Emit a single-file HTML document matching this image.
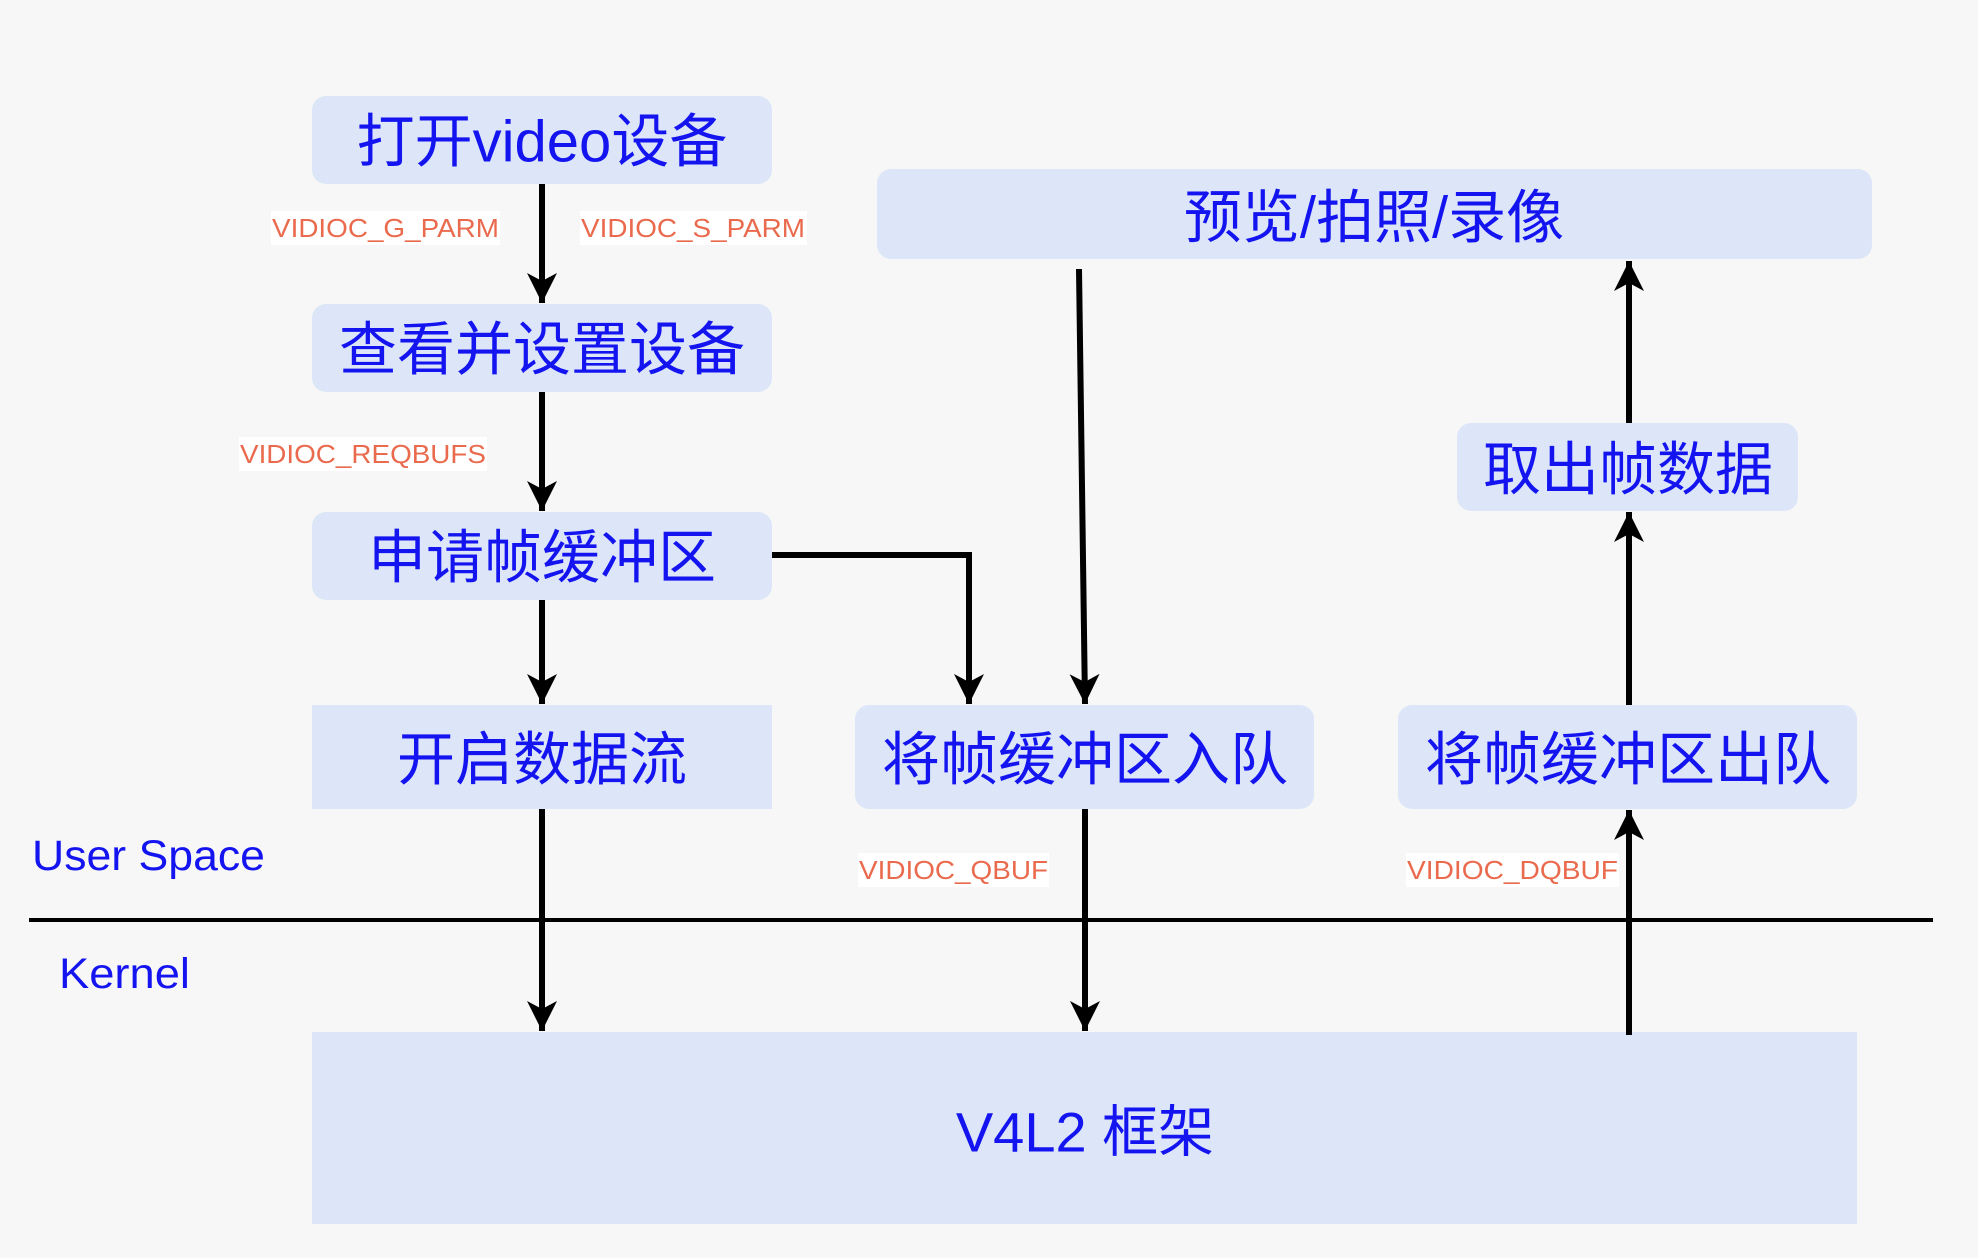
<!DOCTYPE html>
<html><head><meta charset="utf-8"><style>
html,body{margin:0;padding:0;background:#f7f7f7;}
svg{display:block}
.t{font-family:"Liberation Sans","Noto Sans CJK SC",sans-serif;fill:#1414f0;text-anchor:middle;dominant-baseline:central}
.l{font-family:"Liberation Sans",sans-serif;fill:#ea6a4e;font-size:26px;dominant-baseline:central}
</style></head><body>
<svg width="1978" height="1258" viewBox="0 0 1978 1258" xmlns="http://www.w3.org/2000/svg">
<defs>
<marker id="b" viewBox="0 0 30 30" markerWidth="30" markerHeight="30" refX="30" refY="15" orient="auto" markerUnits="userSpaceOnUse"><path d="M0,0 L30,15 L0,30 L8,15 Z" fill="#000"/></marker></defs>
<rect width="1978" height="1258" fill="#f7f7f7"/>
<g fill="#dce6f8">
<rect x="312" y="96" width="460" height="88" rx="14"/>
<rect x="312" y="304" width="460" height="88" rx="14"/>
<rect x="312" y="512" width="460" height="88" rx="14"/>
<rect x="312" y="705" width="460" height="104"/>
<rect x="855" y="705" width="459" height="104" rx="14"/>
<rect x="1398" y="705" width="459" height="104" rx="14"/>
<rect x="877" y="169" width="995" height="90" rx="14"/>
<rect x="1457" y="423" width="341" height="88" rx="14"/>
<rect x="312" y="1032" width="1545" height="192"/>
</g>
<text class="t" x="542" y="142" font-size="58">打开video设备</text>
<text class="t" x="542" y="350" font-size="58">查看并设置设备</text>
<text class="t" x="542" y="558" font-size="58">申请帧缓冲区</text>
<text class="t" x="542" y="760" font-size="58">开启数据流</text>
<text class="t" x="1085" y="760" font-size="58">将帧缓冲区入队</text>
<text class="t" x="1628" y="760" font-size="58">将帧缓冲区出队</text>
<text class="t" x="1374" y="218" font-size="58">预览/拍照/录像</text>
<text class="t" x="1628" y="470" font-size="58">取出帧数据</text>
<text class="t" x="1085" y="1132" font-size="56">V4L2 框架</text>
<text class="t" x="32" y="856" font-size="43" style="text-anchor:start" textLength="233" lengthAdjust="spacingAndGlyphs">User Space</text>
<text class="t" x="59" y="974" font-size="43" style="text-anchor:start" textLength="131" lengthAdjust="spacingAndGlyphs">Kernel</text>
<line x1="29" y1="920" x2="1933" y2="920" stroke="#000" stroke-width="4"/>
<g stroke="#000" stroke-width="6" fill="none" marker-end="url(#b)">
<line x1="542" y1="184" x2="542" y2="303"/>
<line x1="542" y1="392" x2="542" y2="511"/>
<line x1="542" y1="600" x2="542" y2="704"/>
<line x1="542" y1="809" x2="542" y2="1031"/>
<polyline points="772,555 969,555 969,704"/>
<line x1="1079" y1="269" x2="1085" y2="704"/>
<line x1="1085" y1="809" x2="1085" y2="1031"/>
<line x1="1629" y1="1035" x2="1629" y2="810"/>
<line x1="1629" y1="705" x2="1629" y2="512"/>
<line x1="1629" y1="423" x2="1629" y2="261"/>
</g>
<g fill="#fff">
<rect x="271" y="211" width="229" height="34"/>
<rect x="580" y="211" width="227" height="34"/>
<rect x="239" y="437" width="248" height="34"/>
<rect x="858" y="853" width="191" height="34"/>
<rect x="1406" y="853" width="213" height="34"/>
</g>
<text class="l" x="272" y="228" textLength="227" lengthAdjust="spacingAndGlyphs">VIDIOC_G_PARM</text>
<text class="l" x="581" y="228" textLength="224" lengthAdjust="spacingAndGlyphs">VIDIOC_S_PARM</text>
<text class="l" x="240" y="454" textLength="246" lengthAdjust="spacingAndGlyphs">VIDIOC_REQBUFS</text>
<text class="l" x="859" y="870" textLength="189" lengthAdjust="spacingAndGlyphs">VIDIOC_QBUF</text>
<text class="l" x="1407" y="870" textLength="211" lengthAdjust="spacingAndGlyphs">VIDIOC_DQBUF</text>
</svg>
</body></html>
